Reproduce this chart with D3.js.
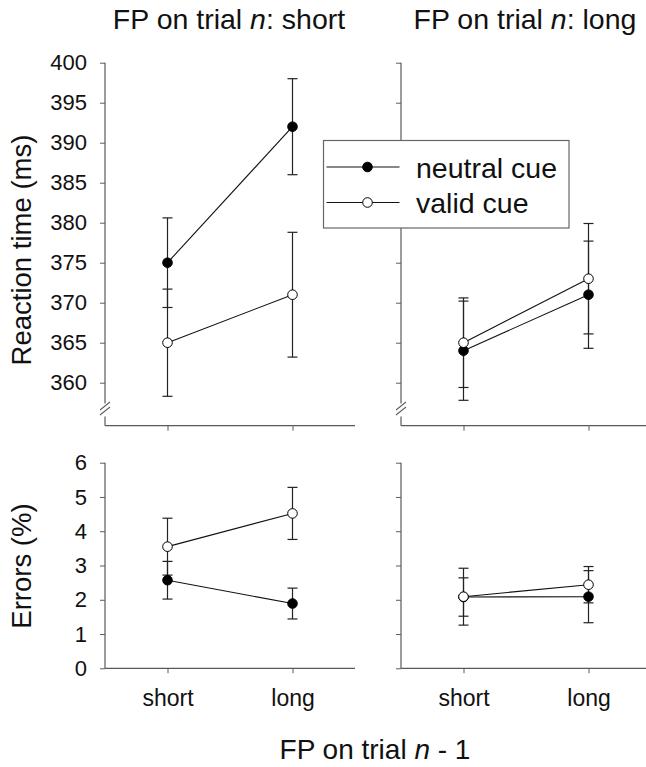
<!DOCTYPE html>
<html>
<head>
<meta charset="utf-8">
<script src="https://cdn.jsdelivr.net/npm/d3@7"></script>
<style>
  html, body { margin: 0; padding: 0; background: #fff; }
  svg { display: block; font-family: "Liberation Sans", Arial, Helvetica, sans-serif; }
</style>
</head>
<body>
<svg id="chart" width="646" height="767"></svg>
<script>
// FP on trial n-1 (x categories)
const prevFP = ["short", "long"];

// Reaction time (ms), FP on trial n: short
const rtShortNeutral = [375, 392];
const rtShortNeutralSE = [5.6, 6.0];
const rtShortValid = [365, 371];
const rtShortValidSE = [6.7, 7.8];

// Reaction time (ms), FP on trial n: long
const rtLongNeutral = [364, 371];
const rtLongNeutralSE = [6.2, 6.7];
const rtLongValid = [365, 373];
const rtLongValidSE = [5.6, 6.9];

// Errors (%), FP on trial n: short
const errShortNeutral = [2.57, 1.89];
const errShortNeutralSE = [0.55, 0.45];
const errShortValid = [3.55, 4.52];
const errShortValidSE = [0.83, 0.76];

// Errors (%), FP on trial n: long
const errLongNeutral = [2.08, 2.09];
const errLongNeutralSE = [0.56, 0.76];
const errLongValid = [2.09, 2.44];
const errLongValidSE = [0.83, 0.53];

const rtTicks = [360, 365, 370, 375, 380, 385, 390, 395, 400];
const errTicks = [0, 1, 2, 3, 4, 5, 6];

const panelTitles = ["FP on trial ", "n", ": short", "FP on trial ", "n", ": long"];

const svg = d3.select("#chart");
const axisColor = "#5a5a5a";
const panelW = 250;
const panelX = [105, 401];

const x = d3.scalePoint().domain(prevFP).range([0, panelW]).padding(0.5);

// upper (RT) and lower (errors) rows
const rtY = d3.scaleLinear().domain([360, 400]).range([382.7, 62.7]);
const rtBase = 425.7;
const errY = d3.scaleLinear().domain([0, 6]).range([668.3, 462.7]);
const errBase = 668.3;

function makeSeries(vals, se, filled) {
  return { pts: prevFP.map((c, i) => ({ c, v: vals[i], se: se[i] })), filled };
}

const panels = [
  { row: "rt", col: 0, series: [makeSeries(rtShortNeutral, rtShortNeutralSE, true), makeSeries(rtShortValid, rtShortValidSE, false)] },
  { row: "rt", col: 1, series: [makeSeries(rtLongNeutral, rtLongNeutralSE, true), makeSeries(rtLongValid, rtLongValidSE, false)] },
  { row: "err", col: 0, series: [makeSeries(errShortNeutral, errShortNeutralSE, true), makeSeries(errShortValid, errShortValidSE, false)] },
  { row: "err", col: 1, series: [makeSeries(errLongNeutral, errLongNeutralSE, true), makeSeries(errLongValid, errLongValidSE, false)] }
];

panels.forEach(p => {
  const y = p.row === "rt" ? rtY : errY;
  const base = p.row === "rt" ? rtBase : errBase;
  const ticks = p.row === "rt" ? rtTicks : errTicks;
  const g = svg.append("g").attr("transform", `translate(${panelX[p.col]},0)`);

  // y axis
  const yAx = d3.axisLeft(y).tickValues(ticks).tickSize(5).tickPadding(13)
    .tickFormat(p.col === 0 ? d3.format("d") : () => "");
  const ya = g.append("g").call(yAx);
  ya.select(".domain").remove();
  ya.selectAll(".tick line").attr("stroke", axisColor);
  ya.selectAll(".tick text").attr("font-size", 22).attr("fill", "#111")
    .attr("font-family", "Liberation Sans, Arial, sans-serif");

  if (p.row === "rt") {
    // axis line interrupted by a break
    g.append("line").attr("x1", 0).attr("x2", 0).attr("y1", y(400)).attr("y2", 403.5)
      .attr("stroke", axisColor).attr("stroke-width", 1.2);
    g.append("line").attr("x1", 0).attr("x2", 0).attr("y1", 416.5).attr("y2", base)
      .attr("stroke", axisColor).attr("stroke-width", 1.2);
    [0, 5].forEach(off => {
      g.append("line").attr("x1", -5).attr("y1", 410 + off).attr("x2", 5).attr("y2", 402 + off)
        .attr("stroke", axisColor).attr("stroke-width", 1.1);
    });
  } else {
    g.append("line").attr("x1", 0).attr("x2", 0).attr("y1", y(6)).attr("y2", base)
      .attr("stroke", axisColor).attr("stroke-width", 1.2);
  }

  // x axis
  const xAx = d3.axisBottom(x).tickSize(5).tickPadding(0)
    .tickFormat(p.row === "err" ? d => d : () => "");
  const xa = g.append("g").attr("transform", `translate(0,${base})`).call(xAx);
  xa.select(".domain").remove();
  xa.selectAll(".tick line").attr("stroke", axisColor);
  xa.selectAll(".tick text").attr("font-size", 23).attr("fill", "#111").attr("y", 21.5)
    .attr("font-family", "Liberation Sans, Arial, sans-serif");
  g.append("line").attr("x1", 0).attr("x2", panelW).attr("y1", base).attr("y2", base)
    .attr("stroke", axisColor).attr("stroke-width", 1.2);

  // error bars
  p.series.forEach(s => {
    const eb = g.append("g");
    s.pts.forEach(d => {
      const cx = x(d.c);
      eb.append("line").attr("x1", cx).attr("x2", cx).attr("y1", y(d.v + d.se)).attr("y2", y(d.v - d.se))
        .attr("stroke", "#222").attr("stroke-width", 1.2);
      [d.v + d.se, d.v - d.se].forEach(val => {
        eb.append("line").attr("x1", cx - 5).attr("x2", cx + 5).attr("y1", y(val)).attr("y2", y(val))
          .attr("stroke", "#222").attr("stroke-width", 1.2);
      });
    });
  });

  // lines and markers
  const line = d3.line().x(d => x(d.c)).y(d => y(d.v));
  p.series.forEach(s => {
    g.append("path").datum(s.pts).attr("d", line).attr("fill", "none")
      .attr("stroke", "#111").attr("stroke-width", 1.1);
  });
  p.series.forEach(s => {
    g.selectAll(null).data(s.pts).enter().append("circle")
      .attr("cx", d => x(d.c)).attr("cy", d => y(d.v)).attr("r", 4.8)
      .attr("fill", s.filled ? "#000" : "#fff").attr("stroke", "#000").attr("stroke-width", 1);
  });
});

// panel titles
[0, 1].forEach(col => {
  const t = svg.append("text").attr("x", panelX[col] + panelW / 2 - 1).attr("y", 28.5)
    .attr("text-anchor", "middle").attr("font-size", 28.5).attr("fill", "#111");
  t.append("tspan").text(panelTitles[col * 3]);
  t.append("tspan").attr("font-style", "italic").text(panelTitles[col * 3 + 1]);
  t.append("tspan").text(panelTitles[col * 3 + 2]);
});

// axis titles
svg.append("text").attr("transform", "translate(31,250) rotate(-90)")
  .attr("text-anchor", "middle").attr("font-size", 27.5).attr("fill", "#111")
  .text("Reaction time (ms)");
svg.append("text").attr("transform", "translate(31,566) rotate(-90)")
  .attr("text-anchor", "middle").attr("font-size", 27.5).attr("fill", "#111")
  .text("Errors (%)");
const xt = svg.append("text").attr("x", 375).attr("y", 759).attr("text-anchor", "middle")
  .attr("font-size", 28).attr("fill", "#111");
xt.append("tspan").text("FP on trial ");
xt.append("tspan").attr("font-style", "italic").text("n");
xt.append("tspan").text(" - 1");

// legend
const legendLabels = ["neutral cue", "valid cue"];
const legendFilled = [true, false];
const lg = svg.append("g").attr("transform", "translate(323.5,140.5)");
lg.append("rect").attr("width", 245.5).attr("height", 87.5).attr("fill", "#fff")
  .attr("stroke", "#666").attr("stroke-width", 1.2);
legendLabels.forEach((lab, i) => {
  const yy = 26.5 + i * 35.5;
  lg.append("line").attr("x1", 3).attr("x2", 76).attr("y1", yy).attr("y2", yy)
    .attr("stroke", "#111").attr("stroke-width", 1.1);
  lg.append("circle").attr("cx", 44).attr("cy", yy).attr("r", 4.8)
    .attr("fill", legendFilled[i] ? "#000" : "#fff").attr("stroke", "#000");
  lg.append("text").attr("x", 92.5).attr("y", yy + 10.5).attr("font-size", 28.5).attr("fill", "#111").text(lab);
});
</script>
</body>
</html>
